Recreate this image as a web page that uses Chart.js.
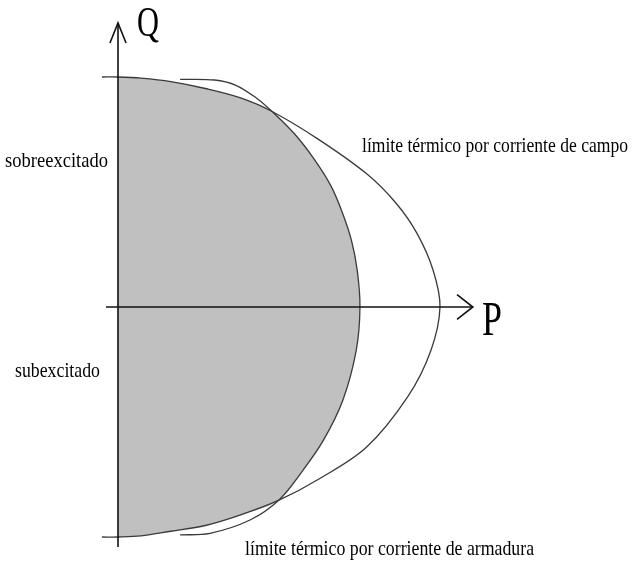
<!DOCTYPE html>
<html>
<head>
<meta charset="utf-8">
<script src="https://cdn.jsdelivr.net/npm/chart.js@4"></script>
<style>
  body { margin: 0; background: #fff; }
  #wrap { position: relative; width: 633px; height: 564px; }
  .lbl {
    position: absolute;
    font-family: "Liberation Serif", "Times New Roman", serif;
    color: #000;
    white-space: nowrap;
    transform-origin: 0 0;
  }
</style>
</head>
<body>
<div id="wrap">
  <canvas id="diagrama"></canvas>
</div>
<script>
// limite por corriente de campo (P, Q), de arriba a abajo
const fieldP = [-0.07, 0, 0.10, 0.23, 0.38, 0.53, 0.67, 0.87, 1.08, 1.21, 1.30, 1.37, 1.40,
  1.36, 1.26, 1.08, 0.87, 0.70, 0.53, 0.38, 0.23, 0.10, 0, -0.07];
const fieldQ = [1.0, 1.0, 0.995, 0.98, 0.95, 0.91, 0.85, 0.73, 0.58, 0.45, 0.32, 0.16, 0,
  -0.19, -0.39, -0.61, -0.75, -0.84, -0.905, -0.95, -0.975, -0.995, -1.0, -1.0];

// limite por corriente de armadura (P, Q), de arriba a abajo
const armP = [0.27, 0.42, 0.51, 0.60, 0.67, 0.77, 0.855, 0.924, 0.972, 1.015, 1.04, 1.052,
  1.036, 0.978, 0.894, 0.805, 0.70, 0.574, 0.40, 0.27];
const armQ = [0.99, 0.987, 0.965, 0.91, 0.85, 0.75, 0.64, 0.53, 0.42, 0.29, 0.16, 0,
  -0.187, -0.404, -0.578, -0.709, -0.839, -0.926, -0.984, -0.991];

// ejes y flechas
const axisQP = [0, 0];
const axisQQ = [-1.043, 1.235];
const axisPP = [-0.052, 1.543];
const axisPQ = [0, 0];
const arrowQP = [-0.035, 0, 0.035];
const arrowQQ = [1.148, 1.235, 1.148];
const arrowPP = [1.474, 1.543, 1.474];
const arrowPQ = [0.054, 0, -0.054];

const labels = [
  { text: 'Q', left: 137, base: 36, size: 42, width: 22 },
  { text: 'P', left: 482, base: 335, size: 48, width: 20 },
  { text: 'sobreexcitado', left: 5, base: 167, size: 22, width: 103 },
  { text: 'subexcitado', left: 15, base: 377, size: 22, width: 85 },
  { text: 'límite térmico por corriente de campo', left: 362, base: 152, size: 22, width: 266 },
  { text: 'límite térmico por corriente de armadura', left: 245, base: 555, size: 22, width: 289 }
];

const pts = (xs, ys) => xs.map((x, i) => ({ x: x, y: ys[i] }));

const field = pts(fieldP, fieldQ);
const arm = pts(armP, armQ);

// zona sombreada: el menor de los dos limites
const shadeUpper = field.slice(1, 7).concat(arm.slice(5, 12));
const shadeLower = field.slice(18, 23).reverse().concat(arm.slice(11, 17).reverse());

const line = (data, color, width, tension) => ({
  data: data,
  borderColor: color,
  borderWidth: width,
  pointRadius: 0,
  tension: tension,
  fill: false
});

const shade = (data) => ({
  data: data,
  borderWidth: 0,
  borderColor: 'rgba(0,0,0,0)',
  backgroundColor: '#c0c0c0',
  pointRadius: 0,
  tension: 0.35,
  fill: 'origin'
});

const curveColor = '#3a3a3a';
const axisColor = '#111';

// chart.js pinta el primer dataset encima: lineas primero, sombreado al final
new Chart(document.getElementById('diagrama'), {
  type: 'line',
  data: {
    datasets: [
      line(pts(axisQP, axisQQ), axisColor, 1.6, 0),
      line(pts(axisPP, axisPQ), axisColor, 1.6, 0),
      line(pts(arrowQP, arrowQQ), axisColor, 1.6, 0),
      line(pts(arrowPP, arrowPQ), axisColor, 1.6, 0),
      line(field, curveColor, 1.3, 0.35),
      line(arm, curveColor, 1.3, 0.35),
      shade(shadeUpper),
      shade(shadeLower)
    ]
  },
  options: {
    responsive: true,
    maintainAspectRatio: false,
    animation: false,
    layout: { padding: 0 },
    plugins: {
      legend: { display: false },
      tooltip: { enabled: false }
    },
    scales: {
      x: { type: 'linear', display: false, bounds: 'data', min: -118 / 230, max: 515 / 230 },
      y: { type: 'linear', display: false, bounds: 'data', min: -257 / 230, max: 307 / 230 }
    }
  }
});

const wrap = document.getElementById('wrap');
labels.forEach(l => {
  const d = document.createElement('div');
  d.className = 'lbl';
  d.textContent = l.text;
  d.style.fontSize = l.size + 'px';
  d.style.lineHeight = l.size + 'px';
  d.style.left = l.left + 'px';
  d.style.top = (l.base - 0.8375 * l.size) + 'px';
  wrap.appendChild(d);
  const w = d.getBoundingClientRect().width;
  d.style.transform = 'scaleX(' + (l.width / w).toFixed(3) + ')';
});
</script>
</body>
</html>
